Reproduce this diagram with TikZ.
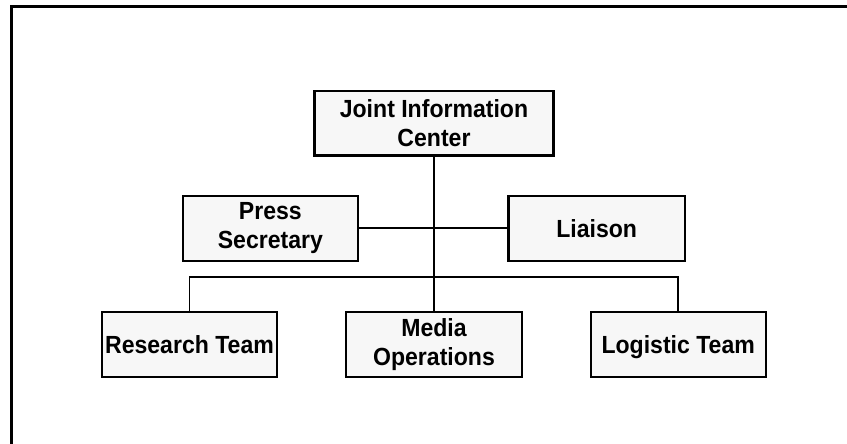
\documentclass[tikz,border=0pt]{standalone}
\usepackage{fontspec}
\setmainfont{Liberation Sans}
\newfontfamily\orgfont[FakeStretch=0.93]{Liberation Sans}
\definecolor{boxfill}{HTML}{F7F7F7}
\begin{document}
\begin{tikzpicture}[x=1pt,y=-1pt,
  orgbox/.style={draw=black, line width=2.2pt, fill=boxfill, inner sep=0pt,
    align=center, minimum height=64.5pt,
    font=\orgfont\fontsize{24.8}{28.5}\selectfont\bfseries},
  conn/.style={draw=black, line width=1.6pt},
  frame/.style={draw=black, line width=2.4pt}]
\useasboundingbox (0,0) rectangle (847,444);
% partial outer frame
\coordinate (ftl) at (11.5,6.5);
\coordinate (ftr) at (848,6.5);
\coordinate (fbl) at (11.5,445);
\draw[frame] (ftr) -- (ftl) -- (fbl);
% boxes
\node[orgbox, minimum width=239pt] (jic) at (434,123.3) {Joint Information\\Center};
\node[orgbox, minimum width=175.5pt, minimum height=65pt] (press) at (270.4,228.2) {Press\\Secretary};
\node[orgbox, minimum width=176.5pt, minimum height=65pt] (liaison) at (596.7,228.2) {Liaison};
\node[orgbox, minimum width=175.6pt] (research) at (189.5,344.5) {Research Team};
\node[orgbox, minimum width=176pt] (media) at (434,344.5) {Media\\Operations};
\node[orgbox, minimum width=175pt] (logistic) at (678.2,344.5) {\raisebox{0pt}[\height][0pt]{Logistic Team}};
% connectors
\coordinate (busc) at (434,277);
\coordinate (busl) at (189.5,277);
\coordinate (busr) at (678.2,277);
\draw[conn] (jic.south) -- (busc);
\draw[conn] (press.east) -- (liaison.west);
\draw[conn] (research.north) -- (busl) -- (busr) -- (logistic.north);
\draw[conn] (busc) -- (media.north);
\end{tikzpicture}
\end{document}
